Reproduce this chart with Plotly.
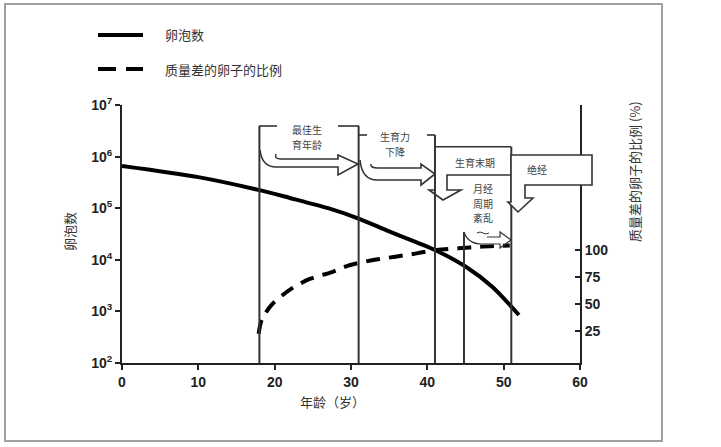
import plotly.graph_objects as go

# ---------------- data ----------------
ages_follicle = [0, 10, 18, 22, 27, 31, 35, 41, 45, 48.5, 52]
follicle_count = [660000, 400000, 224000, 158000, 100000, 63000, 35500, 15500, 7400, 3000, 850]

ages_poor = [17.9, 18.3, 19.6, 22.2, 24.6, 27.3, 29.9, 32.9, 35.8, 38.6, 41.2, 44.1, 46.9, 50.8]
poor_pct = [22, 35, 49, 64, 73, 79, 86, 90.6, 93.7, 96.8, 100, 101.5, 103, 104]

x_ticks = [0, 10, 20, 30, 40, 50, 60]
y_ticks = [1e2, 1e3, 1e4, 1e5, 1e6, 1e7]
y_tick_text = ["10<sup>2</sup>", "10<sup>3</sup>", "10<sup>4</sup>",
               "10<sup>5</sup>", "10<sup>6</sup>", "10<sup>7</sup>"]
y2_ticks = [25, 50, 75, 100]

stage_ages = [18, 31, 41, 44.8, 51]
stage_labels = [["最佳生", "育年龄"], ["生育力", "下降"], ["生育末期"],
                ["月经", "周期", "紊乱"], ["绝经"]]

legend_names = ["卵泡数", "质量差的卵子的比例"]
x_title = "年龄（岁）"
y_title = "卵泡数"
y2_title = "质量差的卵子的比例 (%)"

# ---------------- layout geometry ----------------
W, H = 721, 447
L, T, R, B = 122, 105, 580, 363
PW, PH = R - L, B - T


def fx(px):
    return (px - L) / PW


def fy(py):
    return (B - py) / PH


def path(cmds, close=False):
    out = []
    for c in cmds:
        op = c[0]
        nums = c[1:]
        pts = []
        for i in range(0, len(nums), 2):
            pts.append(f"{fx(nums[i]):.5f},{fy(nums[i+1]):.5f}")
        out.append(op + " " + " ".join(pts))
    s = " ".join(out)
    if close:
        s += " Z"
    return s


INK = "#333333"
fig = go.Figure()

fig.add_trace(go.Scatter(
    x=ages_follicle, y=follicle_count, mode="lines", name=legend_names[0],
    line=dict(color="black", width=4, shape="spline", smoothing=0.8),
    showlegend=False, yaxis="y"))

fig.add_trace(go.Scatter(
    x=ages_poor, y=poor_pct, mode="lines", name=legend_names[1],
    line=dict(color="black", width=4, dash="14px,9px", shape="spline", smoothing=0.8),
    showlegend=False, yaxis="y2"))

shapes = []
# stage boundary lines
stage_tops = [126, 126, 135, 232, 146.7]
for a, top in zip(stage_ages, stage_tops):
    shapes.append(dict(type="line", xref="x", yref="paper", x0=a, x1=a,
                       y0=0, y1=fy(top), line=dict(color=INK, width=2), layer="above"))

line_style = dict(color=INK, width=1.6)
# box 1 bracket
shapes.append(dict(type="path", xref="paper", yref="paper",
                   path=path([("M", 259, 126), ("L", 277, 126)]), line=line_style, layer="above"))
shapes.append(dict(type="path", xref="paper", yref="paper",
                   path=path([("M", 338, 126), ("L", 359, 126)]), line=line_style, layer="above"))
# box 1 arrow
shapes.append(dict(type="path", xref="paper", yref="paper",
                   path=path([("M", 260, 150), ("Q", 262, 167, 276, 167), ("L", 338, 167),
                              ("L", 338, 175), ("L", 358, 164), ("L", 338, 155), ("L", 338, 159),
                              ("L", 281, 159), ("Q", 274, 159, 276, 154)]),
                   line=line_style, layer="above"))
# box 2 bracket
shapes.append(dict(type="path", xref="paper", yref="paper",
                   path=path([("M", 359, 135), ("L", 367, 135)]), line=line_style, layer="above"))
shapes.append(dict(type="path", xref="paper", yref="paper",
                   path=path([("M", 427, 135), ("L", 435, 135)]), line=line_style, layer="above"))
# box 2 arrow
shapes.append(dict(type="path", xref="paper", yref="paper",
                   path=path([("M", 360, 160), ("Q", 362, 180, 377, 180), ("L", 421, 180),
                              ("L", 421, 185), ("L", 435, 174), ("L", 421, 164), ("L", 421, 168),
                              ("L", 378, 168), ("Q", 370, 168, 371, 164)]),
                   line=line_style, layer="above"))
# box 3 with down arrow
shapes.append(dict(type="path", xref="paper", yref="paper",
                   path=path([("M", 435, 146.7), ("L", 511, 146.7), ("M", 511, 175), ("L", 447, 175),
                              ("L", 447, 190), ("L", 461, 190), ("L", 443, 200), ("L", 429, 190),
                              ("L", 435, 190)]),
                   line=line_style, layer="above"))
# box 4 curved arrow
shapes.append(dict(type="path", xref="paper", yref="paper",
                   path=path([("M", 464, 232), ("Q", 468, 244, 482, 244), ("L", 500, 244),
                              ("L", 500, 248), ("L", 511, 240), ("L", 500, 232), ("L", 500, 237),
                              ("L", 487, 237)]),
                   line=dict(color=INK, width=1.2), layer="above"))
shapes.append(dict(type="path", xref="paper", yref="paper",
                   path=path([("M", 477, 233), ("Q", 480, 231, 483, 233), ("Q", 486, 235, 489, 233)]),
                   line=dict(color=INK, width=1), layer="above"))
# box 5 (covers the right axis line)
shapes.append(dict(type="path", xref="paper", yref="paper",
                   path=path([("M", 511, 155), ("L", 592, 155), ("L", 592, 185), ("L", 525, 185),
                              ("L", 525, 198), ("L", 533, 198), ("L", 518, 212), ("L", 508, 202),
                              ("L", 511, 202)], close=True),
                   line=line_style, fillcolor="white", layer="above"))

# manual legend
shapes.append(dict(type="line", xref="paper", yref="paper", x0=fx(98), x1=fx(143),
                   y0=fy(35), y1=fy(35), line=dict(color="black", width=4)))
shapes.append(dict(type="line", xref="paper", yref="paper", x0=fx(98), x1=fx(116),
                   y0=fy(69), y1=fy(69), line=dict(color="black", width=4)))
shapes.append(dict(type="line", xref="paper", yref="paper", x0=fx(126), x1=fx(143),
                   y0=fy(69), y1=fy(69), line=dict(color="black", width=4)))

# outer frame
shapes.append(dict(type="rect", xref="paper", yref="paper", x0=fx(5), x1=fx(662),
                   y0=fy(441), y1=fy(4), line=dict(color="#a0a0a0", width=2)))

CJK = "Noto Sans CJK SC"
ann = []


def text(s, px, py, size=11, color="#444444", angle=0, xanchor="center", pad=1):
    ann.append(dict(text=s, x=fx(px), y=fy(py), xref="paper", yref="paper",
                    showarrow=False, xanchor=xanchor, yanchor="middle", borderpad=pad,
                    textangle=angle, font=dict(family=CJK, size=size, color=color)))


label_pos = [(307, [129.5, 144]), (395, [136.5, 151]), (475, [162]),
             (483, [188.5, 203, 217.5]), (537, [169])]
for lines, (cx, ys) in zip(stage_labels, label_pos):
    for s, yy in zip(lines, ys):
        text(s, cx, yy, size=10, pad=0)

text(legend_names[0], 163, 35, size=13, color="#333333", xanchor="left")
text(legend_names[1], 163, 69, size=13, color="#333333", xanchor="left")

text(x_title, 332, 401, size=13, color="#333333")
text(y_title, 69, 232, size=13, color="#333333", angle=-90)
text(y2_title, 634, 172, size=13, color="#333333", angle=-90)

tick_font = dict(family="Liberation Sans, Arial", size=14, color="#222222", weight="bold")

fig.update_layout(
    width=W, height=H,
    margin=dict(l=L, r=W - R, t=T, b=H - B, pad=0),
    paper_bgcolor="white", plot_bgcolor="white",
    showlegend=False,
    xaxis=dict(range=[0, 60], tickvals=x_ticks, ticks="outside", ticklen=5, tickwidth=2,
               tickcolor="#222", showline=True, linecolor="#222", linewidth=2,
               showgrid=False, zeroline=False, tickfont=tick_font),
    yaxis=dict(type="log", range=[2, 7], tickvals=y_ticks, ticktext=y_tick_text,
               ticks="outside", ticklen=5, tickwidth=2, tickcolor="#222",
               showline=True, linecolor="#222", linewidth=2, showgrid=False,
               zeroline=False, tickfont=tick_font),
    yaxis2=dict(overlaying="y", side="right", range=[-5.1, 234.7], tickvals=y2_ticks,
                ticks="inside", ticklen=5, tickwidth=2, tickcolor="#222",
                showline=True, linecolor="#222", linewidth=2, showgrid=False,
                zeroline=False, tickfont=tick_font),
    shapes=shapes,
    annotations=ann,
)

fig.write_html("out.html")
